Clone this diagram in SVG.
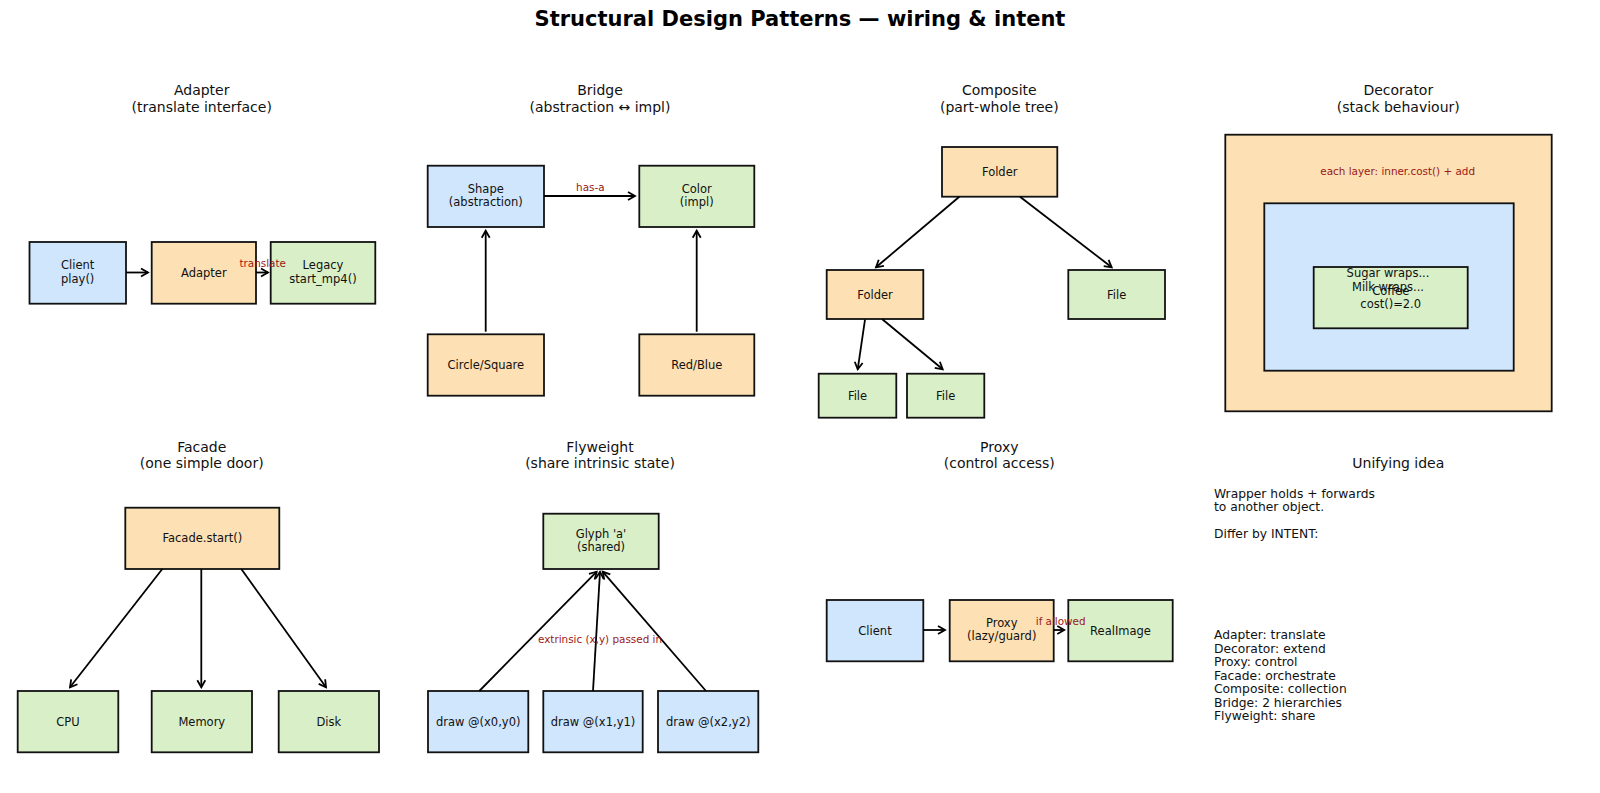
<svg xmlns="http://www.w3.org/2000/svg" width="1600" height="793" viewBox="0 0 1600 793">
<style>
text{font-family:"DejaVu Sans","Liberation Sans",sans-serif;fill:#111}
.t{font-size:14px;text-anchor:middle}
.h{font-size:21px;font-weight:bold;text-anchor:middle;fill:#000}
.l{font-size:11.5px;text-anchor:middle}
.r{font-size:10.4px;text-anchor:middle;fill:#9a1818}
.u{font-size:12.3px}
.b{fill:#cfe6fd;stroke:#111;stroke-width:1.8}
.o{fill:#fde0b3;stroke:#111;stroke-width:1.8}
.g{fill:#d9efc8;stroke:#111;stroke-width:1.8}
.c line{stroke:#000;stroke-width:1.8;marker-end:url(#ah)}
</style>
<defs>
<marker id="ah" markerUnits="userSpaceOnUse" markerWidth="12" markerHeight="12" viewBox="-10 -6 12 12" refX="0" refY="0" orient="auto">
<path d="M-7,-4 L0,0 L-7,4" fill="none" stroke="#000" stroke-width="1.8"/>
</marker>
</defs>
<rect width="1600" height="793" fill="#fff"/>
<text class="h" x="800" y="25.5">Structural Design Patterns — wiring &amp; intent</text>

<g id="titles">
<text class="t" x="201.7" y="95">Adapter</text><text class="t" x="201.7" y="111.7">(translate interface)</text>
<text class="t" x="600" y="95">Bridge</text><text class="t" x="600" y="111.7">(abstraction ↔ impl)</text>
<text class="t" x="999.3" y="95">Composite</text><text class="t" x="999.3" y="111.7">(part-whole tree)</text>
<text class="t" x="1398.3" y="95">Decorator</text><text class="t" x="1398.3" y="111.7">(stack behaviour)</text>
<text class="t" x="201.7" y="451.7">Facade</text><text class="t" x="201.7" y="468.3">(one simple door)</text>
<text class="t" x="600" y="451.7">Flyweight</text><text class="t" x="600" y="468.3">(share intrinsic state)</text>
<text class="t" x="999.3" y="451.7">Proxy</text><text class="t" x="999.3" y="468.3">(control access)</text>
<text class="t" x="1398.3" y="468.3">Unifying idea</text>
</g>

<!-- Adapter -->
<g id="adapter-client"><rect class="b" x="29.5" y="242" width="96.5" height="61.7"/><text class="l" x="77.7" y="269.3">Client</text><text class="l" x="77.7" y="282.7">play()</text></g>
<g id="adapter-adapter"><rect class="o" x="151.7" y="242" width="104.3" height="61.7"/><text class="l" x="203.8" y="276.8">Adapter</text></g>
<g id="adapter-legacy"><rect class="g" x="270.7" y="242" width="104.6" height="61.7"/><text class="l" x="323" y="269.3">Legacy</text><text class="l" x="323" y="282.7">start_mp4()</text></g>

<!-- Bridge -->
<g id="bridge-shape"><rect class="b" x="427.7" y="165.7" width="116.3" height="61.3"/><text class="l" x="485.8" y="192.7">Shape</text><text class="l" x="485.8" y="206.1">(abstraction)</text></g>
<g id="bridge-color"><rect class="g" x="639.3" y="165.7" width="115" height="61.3"/><text class="l" x="696.8" y="192.7">Color</text><text class="l" x="696.8" y="206.1">(impl)</text></g>
<g id="bridge-circle"><rect class="o" x="427.7" y="334.3" width="116.3" height="61.4"/><text class="l" x="485.8" y="369">Circle/Square</text></g>
<g id="bridge-red"><rect class="o" x="639.3" y="334.3" width="115" height="61.4"/><text class="l" x="696.8" y="369">Red/Blue</text></g>

<!-- Composite -->
<g id="comp-root"><rect class="o" x="942" y="147" width="115.3" height="49.7"/><text class="l" x="999.7" y="175.8">Folder</text></g>
<g id="comp-folder"><rect class="o" x="826.7" y="270" width="96.6" height="49"/><text class="l" x="875" y="298.5">Folder</text></g>
<g id="comp-file-r"><rect class="g" x="1068.3" y="270" width="96.7" height="49"/><text class="l" x="1116.7" y="298.5">File</text></g>
<g id="comp-file1"><rect class="g" x="818.7" y="373.7" width="77.6" height="44"/><text class="l" x="857.5" y="399.7">File</text></g>
<g id="comp-file2"><rect class="g" x="907" y="373.7" width="77.3" height="44"/><text class="l" x="945.7" y="399.7">File</text></g>

<!-- Decorator -->
<g id="decorator">
<rect class="o" x="1225.3" y="134.7" width="326.4" height="276.6"/>
<text class="r" x="1397.7" y="175">each layer: inner.cost() + add</text>
<rect class="b" x="1264.3" y="203.3" width="249.4" height="167.4"/>
<rect class="g" x="1313.7" y="267" width="154" height="61.3"/>
<text class="l" x="1388" y="276.7">Sugar wraps...</text>
<text class="l" x="1388" y="290.7">Milk wraps...</text>
<text class="l" x="1390.7" y="295">Coffee</text>
<text class="l" x="1390.7" y="308.4">cost()=2.0</text>
</g>

<!-- Facade -->
<g id="facade"><rect class="o" x="125.3" y="507.7" width="154" height="61.3"/><text class="l" x="202.3" y="542.3">Facade.start()</text></g>
<g id="facade-cpu"><rect class="g" x="17.7" y="691" width="100.6" height="61.3"/><text class="l" x="68" y="725.7">CPU</text></g>
<g id="facade-mem"><rect class="g" x="151.7" y="691" width="100.3" height="61.3"/><text class="l" x="201.8" y="725.7">Memory</text></g>
<g id="facade-disk"><rect class="g" x="278.7" y="691" width="100.3" height="61.3"/><text class="l" x="328.8" y="725.7">Disk</text></g>

<!-- Flyweight -->
<g id="fly-glyph"><rect class="g" x="543.3" y="513.7" width="115.4" height="55.3"/><text class="l" x="601" y="538">Glyph 'a'</text><text class="l" x="601" y="551.4">(shared)</text></g>
<g id="fly-d0"><rect class="b" x="428" y="691" width="100.3" height="61.3"/><text class="l" x="478.2" y="725.7">draw @(x0,y0)</text></g>
<g id="fly-d1"><rect class="b" x="543.3" y="691" width="99.4" height="61.3"/><text class="l" x="593" y="725.7">draw @(x1,y1)</text></g>
<g id="fly-d2"><rect class="b" x="658" y="691" width="100.3" height="61.3"/><text class="l" x="708.2" y="725.7">draw @(x2,y2)</text></g>

<!-- Proxy -->
<g id="proxy-client"><rect class="b" x="826.7" y="600" width="96.6" height="61.3"/><text class="l" x="875" y="634.7">Client</text></g>
<g id="proxy-proxy"><rect class="o" x="949.7" y="600" width="104" height="61.3"/><text class="l" x="1001.7" y="627">Proxy</text><text class="l" x="1001.7" y="640.4">(lazy/guard)</text></g>
<g id="proxy-real"><rect class="g" x="1068.3" y="600" width="104.4" height="61.3"/><text class="l" x="1120.5" y="634.7">RealImage</text></g>

<!-- Unifying idea -->
<g id="unifying">
<text class="u" x="1214" y="497.7">Wrapper holds + forwards</text>
<text class="u" x="1214" y="511.1">to another object.</text>
<text class="u" x="1214" y="538.3">Differ by INTENT:</text>
<text class="u" x="1214" y="639.3">Adapter: translate</text>
<text class="u" x="1214" y="652.8">Decorator: extend</text>
<text class="u" x="1214" y="666.3">Proxy: control</text>
<text class="u" x="1214" y="679.8">Facade: orchestrate</text>
<text class="u" x="1214" y="693.3">Composite: collection</text>
<text class="u" x="1214" y="706.8">Bridge: 2 hierarchies</text>
<text class="u" x="1214" y="720.3">Flyweight: share</text>
</g>

<g id="connectors" class="c">
<line x1="126" y1="272.5" x2="148" y2="272.5"/>
<line x1="256" y1="272.5" x2="268" y2="272.5"/>
<line x1="544" y1="196" x2="635" y2="196"/>
<line x1="485.7" y1="331.7" x2="485.7" y2="230.7"/>
<line x1="696.7" y1="331.7" x2="696.7" y2="230.7"/>
<line x1="959.3" y1="196.7" x2="876" y2="267.3"/>
<line x1="1020" y1="196.7" x2="1111.7" y2="267.3"/>
<line x1="865" y1="319.7" x2="857.7" y2="369.3"/>
<line x1="882.3" y1="319.3" x2="942.7" y2="369.3"/>
<line x1="162.3" y1="569" x2="70" y2="687.3"/>
<line x1="201.3" y1="569" x2="201.3" y2="687.3"/>
<line x1="241.3" y1="569" x2="326" y2="687.3"/>
<line x1="479.3" y1="691" x2="596.7" y2="571.7"/>
<line x1="593" y1="691" x2="600" y2="571.7"/>
<line x1="706" y1="691" x2="602.7" y2="571.7"/>
<line x1="923.3" y1="630" x2="945" y2="630"/>
<line x1="1053.7" y1="630" x2="1064.3" y2="630"/>
</g>
<g id="edge-labels">
<text class="r" x="262.7" y="267">translate</text>
<text class="r" x="590.3" y="191">has-a</text>
<text class="r" x="600" y="642.7">extrinsic (x,y) passed in</text>
<text class="r" x="1060.7" y="625">if allowed</text>
</g>
</svg>
